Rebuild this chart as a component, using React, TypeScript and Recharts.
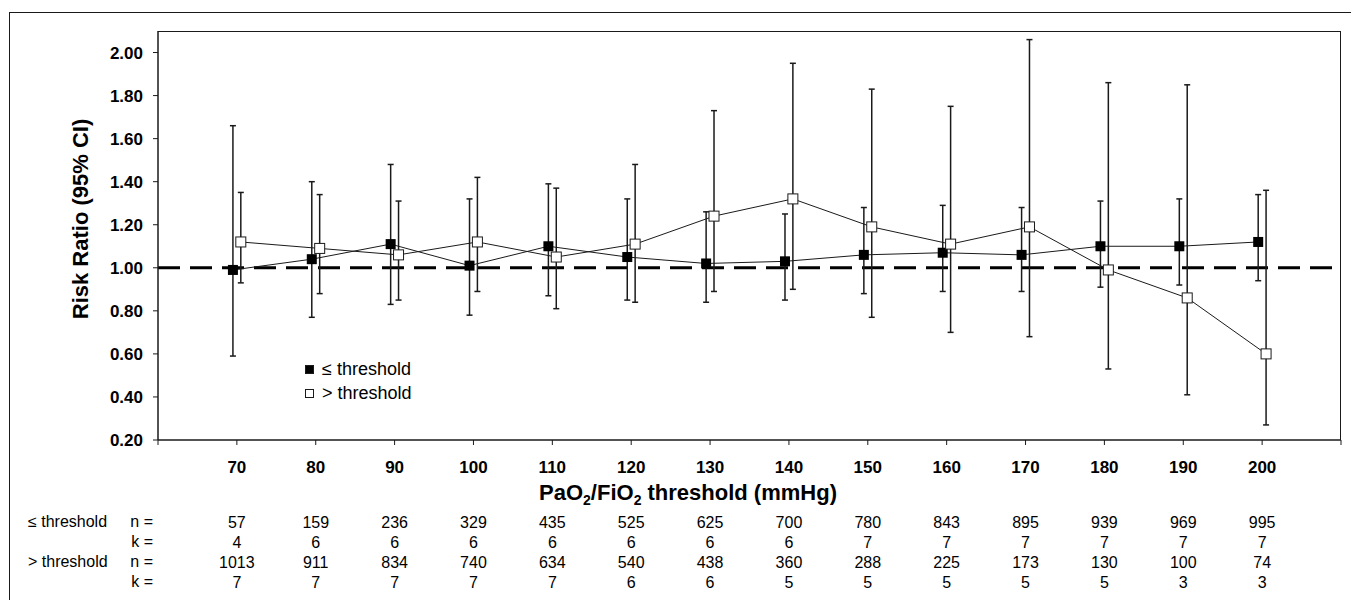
import { ComposedChart, Scatter, ErrorBar, XAxis, YAxis, ReferenceLine, Legend } from 'recharts';

const FONT = "Arial, 'Liberation Sans', sans-serif";
const INK = '#1a1a1a';

// PaO2/FiO2 thresholds (mmHg)
const thresholds = [70, 80, 90, 100, 110, 120, 130, 140, 150, 160, 170, 180, 190, 200];
const xTicks = [60, 70, 80, 90, 100, 110, 120, 130, 140, 150, 160, 170, 180, 190, 200, 210];
const yTicks = [0.2, 0.4, 0.6, 0.8, 1.0, 1.2, 1.4, 1.6, 1.8, 2.0];

// <= threshold: risk ratio and 95% CI
const belowRR = [0.99, 1.04, 1.11, 1.01, 1.1, 1.05, 1.02, 1.03, 1.06, 1.07, 1.06, 1.1, 1.1, 1.12];
const belowLo = [0.59, 0.77, 0.83, 0.78, 0.87, 0.85, 0.84, 0.85, 0.88, 0.89, 0.89, 0.91, 0.92, 0.94];
const belowHi = [1.66, 1.4, 1.48, 1.32, 1.39, 1.32, 1.26, 1.25, 1.28, 1.29, 1.28, 1.31, 1.32, 1.34];

// > threshold: risk ratio and 95% CI
const aboveRR = [1.12, 1.09, 1.06, 1.12, 1.05, 1.11, 1.24, 1.32, 1.19, 1.11, 1.19, 0.99, 0.86, 0.6];
const aboveLo = [0.93, 0.88, 0.85, 0.89, 0.81, 0.84, 0.89, 0.9, 0.77, 0.7, 0.68, 0.53, 0.41, 0.27];
const aboveHi = [1.35, 1.34, 1.31, 1.42, 1.37, 1.48, 1.73, 1.95, 1.83, 1.75, 2.06, 1.86, 1.85, 1.36];

// patients (n) and studies (k) per group
const nBelow = [57, 159, 236, 329, 435, 525, 625, 700, 780, 843, 895, 939, 969, 995];
const kBelow = [4, 6, 6, 6, 6, 6, 6, 6, 7, 7, 7, 7, 7, 7];
const nAbove = [1013, 911, 834, 740, 634, 540, 438, 360, 288, 225, 173, 130, 100, 74];
const kAbove = [7, 7, 7, 7, 7, 6, 6, 5, 5, 5, 5, 5, 3, 3];

const seriesNames = ['≤ threshold', '> threshold'];

// small horizontal nudge so the two series don't sit on top of each other
const belowData = thresholds.map((t, i) => ({
  x: t - 0.5,
  y: belowRR[i],
  err: [belowRR[i] - belowLo[i], belowHi[i] - belowRR[i]],
}));
const aboveData = thresholds.map((t, i) => ({
  x: t + 0.5,
  y: aboveRR[i],
  err: [aboveRR[i] - aboveLo[i], aboveHi[i] - aboveRR[i]],
}));

const BlackSquare = (p: any) => <rect x={p.cx - 5} y={p.cy - 5} width={10} height={10} fill="#000" />;
const WhiteSquare = (p: any) => (
  <rect x={p.cx - 5} y={p.cy - 5} width={10} height={10} fill="#fff" stroke={INK} strokeWidth={1} />
);

const TableTick = (props: any) => {
  const { x, y, payload } = props;
  const i = thresholds.indexOf(payload.value);
  if (i < 0) return <g />;
  const cell = { textAnchor: 'middle' as const, fontFamily: FONT, fill: '#000' };
  return (
    <g>
      <text x={x} y={y + 28} {...cell} fontSize={17} fontWeight="bold">
        {payload.value}
      </text>
      <text x={x} y={y + 83} {...cell} fontSize={16}>{nBelow[i]}</text>
      <text x={x} y={y + 103} {...cell} fontSize={16}>{kBelow[i]}</text>
      <text x={x} y={y + 123} {...cell} fontSize={16}>{nAbove[i]}</text>
      <text x={x} y={y + 143} {...cell} fontSize={16}>{kAbove[i]}</text>
    </g>
  );
};

const renderLegend = () => (
  <div style={{ fontFamily: FONT, fontSize: 18, color: '#000' }}>
    {seriesNames.map((name, i) => (
      <div key={name} style={{ display: 'flex', alignItems: 'center', height: 24 }}>
        <span
          style={{
            width: 9,
            height: 9,
            boxSizing: 'border-box',
            background: i === 0 ? '#000' : '#fff',
            border: `1px solid ${INK}`,
          }}
        />
        <span style={{ marginLeft: 8 }}>{name}</span>
      </div>
    ))}
  </div>
);

const rowLabel = (text: string, top: number, left?: number, right?: number) => (
  <div
    style={{
      position: 'absolute',
      top: top - 8,
      left,
      right,
      fontFamily: FONT,
      fontSize: 16,
      lineHeight: '16px',
      whiteSpace: 'nowrap',
      color: '#000',
    }}
  >
    {text}
  </div>
);

export default function App() {
  return (
    <div style={{ position: 'absolute', left: 0, top: 0, width: 1351, height: 600, background: '#fff', overflow: 'hidden' }}>
      {/* outer frame */}
      <div style={{ position: 'absolute', left: 9, top: 12, right: 0, bottom: 0, borderLeft: `1.5px solid ${INK}`, borderTop: `1.5px solid ${INK}` }} />
      {/* plot frame */}
      <div style={{ position: 'absolute', left: 158, top: 31, width: 1183, height: 409, boxSizing: 'border-box', borderTop: `1.5px solid ${INK}`, borderRight: `1.5px solid ${INK}` }} />

      <ComposedChart width={1351} height={600} margin={{ top: 31, right: 10, bottom: 130, left: 0 }} style={{ position: 'absolute', left: 0, top: 0 }}>
        <XAxis
          type="number"
          dataKey="x"
          domain={[60, 210]}
          ticks={xTicks}
          interval={0}
          height={30}
          tickSize={5}
          tickMargin={0}
          axisLine={{ stroke: INK, strokeWidth: 1.5 }}
          tickLine={{ stroke: INK, strokeWidth: 1 }}
          tick={<TableTick />}
        />
        <YAxis
          type="number"
          dataKey="y"
          domain={[0.2, 2.1]}
          allowDataOverflow
          ticks={yTicks}
          interval={0}
          width={158}
          tickSize={5}
          tickMargin={10}
          tickFormatter={(v: number) => v.toFixed(2)}
          axisLine={{ stroke: INK, strokeWidth: 1.5 }}
          tickLine={{ stroke: INK, strokeWidth: 1 }}
          tick={{ fontSize: 17, fontWeight: 'bold', fontFamily: FONT, fill: '#000' }}
        />
        <ReferenceLine y={1} stroke="#000" strokeWidth={3} strokeDasharray="22 10" />
        <Scatter
          name={seriesNames[0]}
          data={belowData}
          shape={BlackSquare}
          line={{ stroke: INK, strokeWidth: 1 }}
          isAnimationActive={false}
        >
          <ErrorBar dataKey="err" direction="y" width={3} stroke={INK} strokeWidth={1.5} isAnimationActive={false} />
        </Scatter>
        <Scatter
          name={seriesNames[1]}
          data={aboveData}
          shape={WhiteSquare}
          line={{ stroke: INK, strokeWidth: 1 }}
          isAnimationActive={false}
        >
          <ErrorBar dataKey="err" direction="y" width={3} stroke={INK} strokeWidth={1.5} isAnimationActive={false} />
        </Scatter>
        <Legend
          layout="vertical"
          align="center"
          verticalAlign="middle"
          content={renderLegend}
          wrapperStyle={{ left: 305, top: 357, width: 200 }}
        />
      </ComposedChart>

      {/* axis titles */}
      <div
        style={{
          position: 'absolute',
          left: 81,
          top: 219,
          transform: 'translate(-50%, -50%) rotate(-90deg)',
          fontFamily: FONT,
          fontSize: 22,
          fontWeight: 'bold',
          whiteSpace: 'nowrap',
          color: '#000',
        }}
      >
        Risk Ratio (95% CI)
      </div>
      <div
        style={{
          position: 'absolute',
          left: 688,
          top: 494,
          transform: 'translate(-50%, -50%)',
          fontFamily: FONT,
          fontSize: 22,
          fontWeight: 'bold',
          whiteSpace: 'nowrap',
          color: '#000',
        }}
      >
        PaO<sub style={{ fontSize: 14 }}>2</sub>/FiO<sub style={{ fontSize: 14 }}>2</sub> threshold (mmHg)
      </div>

      {/* table row labels */}
      {rowLabel('≤ threshold', 522, 28)}
      {rowLabel('n =', 522, undefined, 1351 - 153)}
      {rowLabel('k =', 542, undefined, 1351 - 153)}
      {rowLabel('> threshold', 562, 28)}
      {rowLabel('n =', 562, undefined, 1351 - 153)}
      {rowLabel('k =', 582, undefined, 1351 - 153)}
    </div>
  );
}
